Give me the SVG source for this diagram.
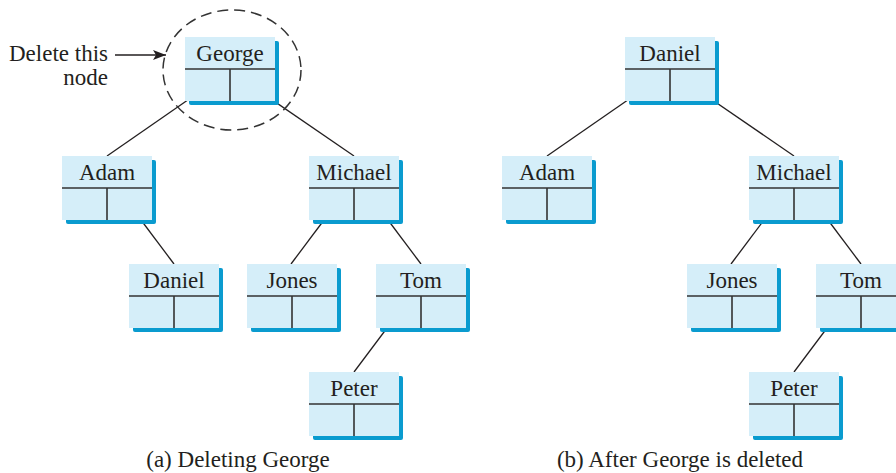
<svg xmlns="http://www.w3.org/2000/svg" xmlns:xlink="http://www.w3.org/1999/xlink" width="896" height="473" viewBox="0 0 896 473">
  <style>
    .label { font-family: "Liberation Serif", "Times New Roman", serif; font-size: 23px; fill: #231f20; }
    .name { text-anchor: middle; }
    .shadow { fill: #0a9bcf; }
    .body { fill: #d5eef9; }
    .div { stroke: #333; stroke-width: 1.6; fill: none; }
    .edge { stroke: #231f20; stroke-width: 1.3; fill: none; }
    .ring { stroke: #333; stroke-width: 1.5; fill: none; stroke-dasharray: 11 6; }
  </style>
  <defs>
    <!-- one tree node: record with a key row and two child-link cells -->
    <g id="cell">
      <rect class="shadow" x="4" y="4" width="90" height="64" rx="2"/>
      <rect class="body" x="0" y="0" width="90" height="64"/>
      <path class="div" d="M0 32 H90 M45 32 V64"/>
    </g>
    <marker id="head" markerWidth="14" markerHeight="10" refX="13" refY="5" orient="auto" markerUnits="userSpaceOnUse">
      <path d="M0 0 L13 5 L0 10 L3 5 Z" fill="#231f20"/>
    </marker>
  </defs>

  <g id="connectors">
    <!-- (a) -->
    <line class="edge" x1="208" y1="86" x2="107" y2="156"/>
    <line class="edge" x1="252" y1="86" x2="354" y2="156"/>
    <line class="edge" x1="129" y1="204" x2="174" y2="264"/>
    <line class="edge" x1="336" y1="204" x2="291" y2="264"/>
    <line class="edge" x1="376" y1="204" x2="421" y2="264"/>
    <line class="edge" x1="399" y1="312" x2="354" y2="372"/>
    <!-- (b) -->
    <line class="edge" x1="648" y1="86" x2="547" y2="156"/>
    <line class="edge" x1="692" y1="86" x2="794" y2="156"/>
    <line class="edge" x1="776" y1="204" x2="731" y2="264"/>
    <line class="edge" x1="816" y1="204" x2="861" y2="264"/>
    <line class="edge" x1="839" y1="312" x2="794" y2="372"/>
    <!-- pointer to the node being removed -->
    <line class="edge" x1="115" y1="55" x2="166" y2="55" marker-end="url(#head)"/>
  </g>

  <!-- tree (a) -->
  <g id="a-george">
    <use xlink:href="#cell" x="185" y="37"/>
    <text class="label name" x="230" y="61">George</text>
  </g>
  <g id="a-adam">
    <use xlink:href="#cell" x="62" y="156"/>
    <text class="label name" x="107" y="180">Adam</text>
  </g>
  <g id="a-michael">
    <use xlink:href="#cell" x="309" y="156"/>
    <text class="label name" x="354" y="180">Michael</text>
  </g>
  <g id="a-daniel">
    <use xlink:href="#cell" x="129" y="264"/>
    <text class="label name" x="174" y="288">Daniel</text>
  </g>
  <g id="a-jones">
    <use xlink:href="#cell" x="247" y="264"/>
    <text class="label name" x="292" y="288">Jones</text>
  </g>
  <g id="a-tom">
    <use xlink:href="#cell" x="376" y="264"/>
    <text class="label name" x="421" y="288">Tom</text>
  </g>
  <g id="a-peter">
    <use xlink:href="#cell" x="309" y="372"/>
    <text class="label name" x="354" y="396">Peter</text>
  </g>

  <!-- highlight around the root -->
  <ellipse class="ring" cx="232" cy="70" rx="69" ry="60"/>
  <text class="label" x="108" y="61" text-anchor="end">Delete this</text>
  <text class="label" x="108" y="85" text-anchor="end">node</text>

  <!-- tree (b) -->
  <g id="b-daniel">
    <use xlink:href="#cell" x="625" y="37"/>
    <text class="label name" x="670" y="61">Daniel</text>
  </g>
  <g id="b-adam">
    <use xlink:href="#cell" x="502" y="156"/>
    <text class="label name" x="547" y="180">Adam</text>
  </g>
  <g id="b-michael">
    <use xlink:href="#cell" x="749" y="156"/>
    <text class="label name" x="794" y="180">Michael</text>
  </g>
  <g id="b-jones">
    <use xlink:href="#cell" x="687" y="264"/>
    <text class="label name" x="732" y="288">Jones</text>
  </g>
  <g id="b-tom">
    <use xlink:href="#cell" x="816" y="264"/>
    <text class="label name" x="861" y="288">Tom</text>
  </g>
  <g id="b-peter">
    <use xlink:href="#cell" x="749" y="372"/>
    <text class="label name" x="794" y="396">Peter</text>
  </g>

  <!-- captions -->
  <text class="label name" x="238" y="467">(a) Deleting George</text>
  <text class="label name" x="680" y="467">(b) After George is deleted</text>
</svg>
